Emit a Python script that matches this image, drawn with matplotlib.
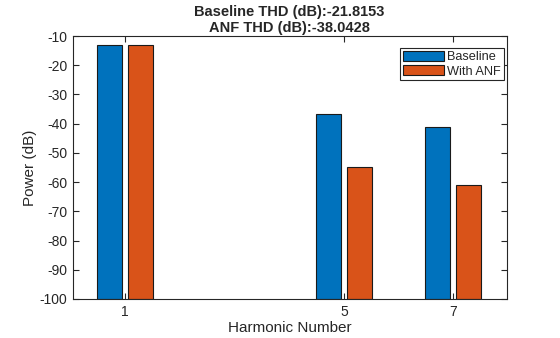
import numpy as np
import matplotlib.pyplot as plt

plt.rcParams['font.family'] = ['Liberation Sans', 'DejaVu Sans']
plt.rcParams['axes.unicode_minus'] = False

harmonics = [1, 5, 7]
baseline_db = [-13.1, -36.6, -41.0]
anf_db = [-13.1, -54.8, -60.9]
baseline_thd = -21.8153
anf_thd = -38.0428

blue = '#0072BD'
orange = '#D95319'
txt = '#262626'
floor_db = -100

fig = plt.figure(figsize=(5.6, 3.38), dpi=100)
ax = fig.add_axes([0.13, 0.1154, 0.7745, 0.778])

x = np.array(harmonics, dtype=float)
off = 0.284
w = 0.457
# bars drawn up from the bottom of the axis
ax.bar(x - off, np.array(baseline_db) - floor_db, width=w, bottom=floor_db,
       color=blue, edgecolor='#1a1a1a', linewidth=0.8, label='Baseline')
ax.bar(x + off, np.array(anf_db) - floor_db, width=w, bottom=floor_db,
       color=orange, edgecolor='#1a1a1a', linewidth=0.8, label='With ANF')

ax.set_xlim(0.043, 7.97)
ax.set_ylim(-100, -10)
ax.set_xticks(harmonics)
ax.set_yticks(np.arange(-100, -9, 10))
ax.tick_params(direction='in', top=True, right=True, length=4, width=0.8,
               labelsize=10, colors=txt, labelcolor=txt, pad=4)
for s in ax.spines.values():
    s.set_color('#262626')
    s.set_linewidth(0.8)

ax.set_xlabel('Harmonic Number', fontsize=11, color=txt, labelpad=2)
ax.set_ylabel('Power (dB)', fontsize=11, color=txt, labelpad=2)
ax.set_title('Baseline THD (dB):%.4f\nANF THD (dB):%.4f' % (baseline_thd, anf_thd),
             fontsize=10.5, fontweight='bold', color=txt, pad=3, linespacing=1.2)

leg = ax.legend(loc='upper right', bbox_to_anchor=(0.994, 0.954), fontsize=9.2,
                fancybox=False, framealpha=1, edgecolor='#262626',
                handlelength=3.2, handleheight=0.85, handletextpad=0.25,
                borderpad=0.22, labelspacing=0.12, borderaxespad=0)
leg.get_frame().set_linewidth(0.8)
for t in leg.get_texts():
    t.set_color(txt)

fig.savefig('out.png', dpi=100, facecolor='white')
